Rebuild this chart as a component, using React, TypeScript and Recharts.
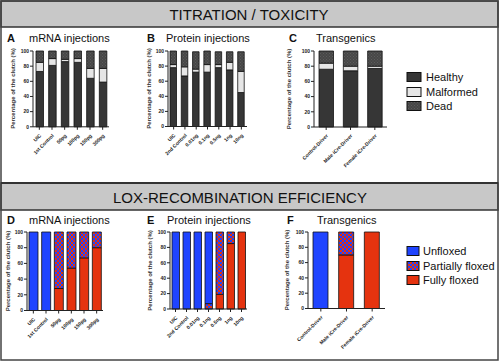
import React from "react";
import { BarChart, Bar, XAxis, YAxis } from "recharts";

const mrnaCats = ["UIC", "1st Control", "50pg", "100pg", "150pg", "300pg"];
const proteinCats = ["UIC", "2nd Control", "0.01ng", "0.1ng", "0.5ng", "1ng", "10ng"];
const transCats = ["Control-Driver", "Male iCre-Driver", "Female iCre-Driver"];
const pctTicks = [0, 20, 40, 60, 80, 100];

// titration / toxicity
const toxMrnaHealthy = [73, 81, 86, 85, 64, 59];
const toxMrnaMalformed = [12, 9, 3, 5, 13, 18];
const toxMrnaDead = [15, 10, 11, 10, 23, 23];

const toxProtHealthy = [78, 67, 72, 72, 78, 75, 45];
const toxProtMalformed = [4, 12, 4, 10, 4, 10, 28];
const toxProtDead = [18, 21, 23, 18, 17, 14, 26];

const toxTransHealthy = [76, 74, 77];
const toxTransMalformed = [8, 6, 3];
const toxTransDead = [16, 20, 20];

// lox recombination
const loxMrnaFully = [0, 0, 28, 54, 67, 80];
const loxMrnaPartial = [0, 0, 72, 46, 33, 20];
const loxMrnaUnfloxed = [100, 100, 0, 0, 0, 0];

const loxProtFully = [0, 0, 0, 0, 19, 85, 100];
const loxProtPartial = [0, 0, 0, 7, 81, 15, 0];
const loxProtUnfloxed = [100, 100, 100, 93, 0, 0, 0];

const loxTransFully = [0, 70, 100];
const loxTransPartial = [0, 30, 0];
const loxTransUnfloxed = [100, 0, 0];

const FONT = "'Liberation Sans', Arial, Helvetica, sans-serif";
const DARK = "#363636";
const LIGHT = "#e6e6e6";
const BLUE = "#1f44ff";
const RED = "#e5330f";

const toxSeries = [
  { key: "healthy", fill: DARK },
  { key: "malformed", fill: LIGHT },
  { key: "dead", fill: "url(#deadPat)" },
];
const loxSeries = [
  { key: "fully", fill: RED },
  { key: "partial", fill: "url(#partialPat)" },
  { key: "unfloxed", fill: BLUE },
];

function toxRows(cats: string[], h: number[], m: number[], d: number[]) {
  return cats.map((name, i) => ({ name, healthy: h[i], malformed: m[i], dead: d[i] }));
}
function loxRows(cats: string[], f: number[], p: number[], u: number[]) {
  return cats.map((name, i) => ({ name, fully: f[i], partial: p[i], unfloxed: u[i] }));
}

const RotTick = (props: any) => {
  const { x, y, payload } = props;
  return (
    <g transform={`translate(${x + 1},${y + 3})`}>
      <text
        transform="rotate(-45)"
        textAnchor="end"
        dy="0.35em"
        fontSize={5}
        fontWeight="bold"
        fill="#222"
        fontFamily={FONT}
      >
        {payload.value}
      </text>
    </g>
  );
};

const YW = 30;
const XH = 50;

interface PanelProps {
  axisX: number;
  xEnd: number;
  yTop: number;
  yBottom: number;
  barSize: number;
  rows: any[];
  series: { key: string; fill: string }[];
}

function Panel({ axisX, xEnd, yTop, yBottom, barSize, rows, series }: PanelProps) {
  const plotW = xEnd - axisX;
  const plotH = yBottom - yTop;
  return (
    <div style={{ position: "absolute", left: axisX - YW, top: yTop - 4 }}>
      <BarChart
        width={YW + plotW + 2}
        height={4 + plotH + XH}
        data={rows}
        margin={{ top: 4, right: 2, bottom: 0, left: 0 }}
        barSize={barSize}
      >
        <XAxis
          dataKey="name"
          interval={0}
          height={XH}
          tick={<RotTick />}
          tickSize={3}
          tickLine={{ stroke: "#222" }}
          axisLine={{ stroke: "#222", strokeWidth: 1 }}
        />
        <YAxis
          width={YW}
          domain={[0, 100]}
          ticks={pctTicks}
          tickSize={3}
          tickMargin={1}
          tickLine={{ stroke: "#222" }}
          axisLine={{ stroke: "#222", strokeWidth: 1 }}
          tick={{ fontSize: 5, fontWeight: "bold", fill: "#222", fontFamily: FONT }}
        />
        {series.map((s) => (
          <Bar
            key={s.key}
            dataKey={s.key}
            stackId="s"
            fill={s.fill}
            stroke="#111"
            strokeWidth={0.8}
            isAnimationActive={false}
          />
        ))}
      </BarChart>
    </div>
  );
}

const yLabel = "Percentage of the clutch (%)";

function YTitle({ x, y }: { x: number; y: number }) {
  return (
    <text
      x={x}
      y={y}
      transform={`rotate(-90 ${x} ${y})`}
      textAnchor="middle"
      dominantBaseline="central"
      fontSize={6}
      fontWeight="bold"
      fill="#333"
      fontFamily={FONT}
    >
      {yLabel}
    </text>
  );
}

function Title({ x, y, letter, text, lx }: { x: number; y: number; letter: string; text: string; lx: number }) {
  return (
    <g fontFamily={FONT} fill="#111">
      <text x={lx} y={y} fontSize={11} fontWeight="bold">
        {letter}
      </text>
      <text x={x} y={y} fontSize={11}>
        {text}
      </text>
    </g>
  );
}

function LegendItem({ x, y, w, fill, label, tx }: any) {
  return (
    <g>
      <rect x={x} y={y - 4.5} width={w} height={9} fill={fill} stroke="#111" strokeWidth={1} />
      <text x={tx} y={y} dominantBaseline="central" fontSize={11} fill="#111" fontFamily={FONT}>
        {label}
      </text>
    </g>
  );
}

export default function App() {
  return (
    <div
      style={{
        position: "absolute",
        left: 0,
        top: 0,
        width: 500,
        height: 362,
        background: "#fff",
        overflow: "hidden",
        fontFamily: FONT,
      }}
    >
      <svg width={0} height={0} style={{ position: "absolute" }}>
        <defs>
          <pattern id="deadPat" width={3} height={3} patternUnits="userSpaceOnUse">
            <rect width={3} height={3} fill="#474747" />
            <rect x={0} y={0} width={1} height={1} fill="#5c5c5c" />
            <rect x={1.5} y={1.5} width={1} height={1} fill="#5c5c5c" />
          </pattern>
          <pattern id="partialPat" width={4} height={4} patternUnits="userSpaceOnUse">
            <rect width={4} height={4} fill={BLUE} />
            <rect x={0} y={0} width={2} height={2} fill={RED} />
            <rect x={2} y={2} width={2} height={2} fill={RED} />
          </pattern>
        </defs>
      </svg>

      <svg width={500} height={362} style={{ position: "absolute", left: 0, top: 0 }}>
        <rect x={1} y={1} width={497} height={26} fill="#c8c8c8" stroke="#333" strokeWidth={1.5} />
        <rect x={1} y={183} width={497} height={27} fill="#c8c8c8" stroke="#333" strokeWidth={1.5} />
        <rect x={1} y={1} width={497} height={359} fill="none" stroke="#444" strokeWidth={1.5} />
        <line x1={1} y1={183} x2={498} y2={183} stroke="#333" strokeWidth={2} />
        <text x={249} y={14.5} textAnchor="middle" dominantBaseline="central" fontSize={15} fill="#111" fontFamily={FONT}>
          TITRATION / TOXICITY
        </text>
        <text x={240} y={197} textAnchor="middle" dominantBaseline="central" fontSize={15} fill="#111" fontFamily={FONT}>
          LOX-RECOMBINATION EFFICIENCY
        </text>

        <Title lx={7} x={29} y={41.5} letter="A" text="mRNA injections" />
        <Title lx={147} x={166} y={41.5} letter="B" text="Protein injections" />
        <Title lx={289} x={316} y={41.5} letter="C" text="Transgenics" />
        <Title lx={7} x={29} y={224} letter="D" text="mRNA injections" />
        <Title lx={147} x={167} y={224} letter="E" text="Protein injections" />
        <Title lx={287} x={317} y={224} letter="F" text="Transgenics" />

        <YTitle x={13} y={88.5} />
        <YTitle x={149} y={88.5} />
        <YTitle x={289} y={89} />
        <YTitle x={8} y={271} />
        <YTitle x={150} y={270.5} />
        <YTitle x={287} y={270} />

        <LegendItem x={407} y={77} w={14} fill={DARK} label="Healthy" tx={426} />
        <LegendItem x={407} y={92} w={14} fill={LIGHT} label="Malformed" tx={426} />
        <LegendItem x={407} y={106} w={14} fill="url(#deadPat)" label="Dead" tx={426} />
        <LegendItem x={407} y={251} w={12} fill={BLUE} label="Unfloxed" tx={423} />
        <LegendItem x={407} y={266} w={12} fill="url(#partialPat)" label="Partially floxed" tx={423} />
        <LegendItem x={407} y={280} w={12} fill={RED} label="Fully floxed" tx={423} />
      </svg>

      <Panel axisX={33} xEnd={109} yTop={50.7} yBottom={126.5} barSize={7.5}
        rows={toxRows(mrnaCats, toxMrnaHealthy, toxMrnaMalformed, toxMrnaDead)} series={toxSeries} />
      <Panel axisX={168} xEnd={247} yTop={50.5} yBottom={126} barSize={6.5}
        rows={toxRows(proteinCats, toxProtHealthy, toxProtMalformed, toxProtDead)} series={toxSeries} />
      <Panel axisX={314} xEnd={387} yTop={51} yBottom={127} barSize={14.5}
        rows={toxRows(transCats, toxTransHealthy, toxTransMalformed, toxTransDead)} series={toxSeries} />

      <Panel axisX={27} xEnd={103} yTop={232} yBottom={310.5} barSize={9}
        rows={loxRows(mrnaCats, loxMrnaFully, loxMrnaPartial, loxMrnaUnfloxed)} series={loxSeries} />
      <Panel axisX={170} xEnd={247} yTop={232} yBottom={309} barSize={7.5}
        rows={loxRows(proteinCats, loxProtFully, loxProtPartial, loxProtUnfloxed)} series={loxSeries} />
      <Panel axisX={308} xEnd={385} yTop={232} yBottom={308.5} barSize={15}
        rows={loxRows(transCats, loxTransFully, loxTransPartial, loxTransUnfloxed)} series={loxSeries} />
    </div>
  );
}
